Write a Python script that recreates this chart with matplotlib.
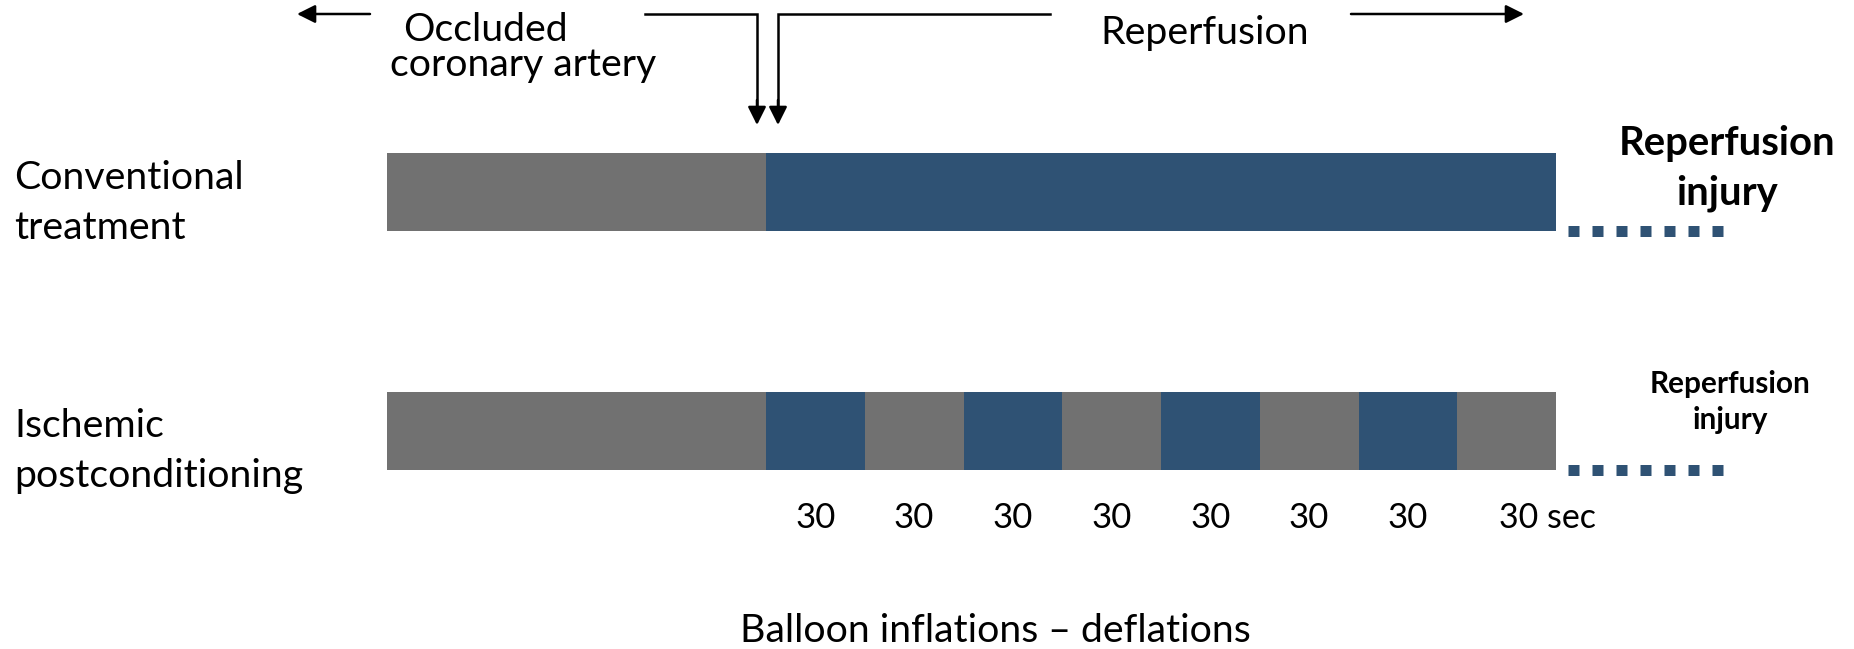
import matplotlib
matplotlib.use("Agg")
import matplotlib.pyplot as plt
from matplotlib.patches import FancyArrowPatch

# ---------------- data ----------------
row_labels = ["Conventional\ntreatment", "Ischemic\npostconditioning"]
occlusion_duration = 115            # schematic length of the index occlusion
conventional_phases = ["reperfusion"]
conventional_durations = [240]
postcond_phases = ["reperfusion", "occlusion"] * 4
postcond_durations = [30, 30, 30, 30, 30, 30, 30, 30]
postcond_labels = ["30", "30", "30", "30", "30", "30", "30", "30 sec"]
injury_labels = ["Reperfusion\ninjury", "Reperfusion\ninjury"]
header_left = "Occluded\ncoronary artery"
header_right = "Reperfusion"
footer = "Balloon inflations \u2013 deflations"

# ---------------- style ----------------
W, H, DPI = 1854, 649, 100
GRAY = "#717171"
BLUE = "#2F5274"
FONT = "Lato"
FS = 28.3
phase_color = {"occlusion": GRAY, "reperfusion": BLUE}

fig = plt.figure(figsize=(W / DPI, H / DPI), dpi=DPI)
fig.patch.set_facecolor("white")

# data axes: x in seconds, y in pixel rows
px_per_s = 98.75 / 30.0
x0_px = 766.0
ax = fig.add_axes([0, 0, 1, 1])
ax.set_xlim(-x0_px / px_per_s, (W - x0_px) / px_per_s)
ax.set_ylim(H, 0)
ax.axis("off")

# overlay axes in pixel coordinates for annotations
ov = fig.add_axes([0, 0, 1, 1], zorder=3)
ov.set_xlim(0, W)
ov.set_ylim(H, 0)
ov.axis("off")
ov.patch.set_alpha(0)

row_y = [192, 431]
bar_h = 78


def draw_row(y, phases, durations):
    ax.barh(y, occlusion_duration, left=-occlusion_duration, height=bar_h,
            color=GRAY, linewidth=0)
    left = 0
    centers = []
    for ph, d in zip(phases, durations):
        ax.barh(y, d, left=left, height=bar_h, color=phase_color[ph], linewidth=0)
        centers.append(left + d / 2)
        left += d
    # dotted continuation
    ax.plot([left + 3.6, left + 50.7], [y + bar_h / 2] * 2, color=BLUE,
            lw=11 * 0.72, linestyle=(0, (1, 13 / 11)), dash_capstyle="butt",
            solid_capstyle="butt")
    return centers, left


draw_row(row_y[0], conventional_phases, conventional_durations)
centers, end = draw_row(row_y[1], postcond_phases, postcond_durations)

# row labels
for lab, y in zip(row_labels, [189, 437]):
    l1, l2 = lab.split("\n")
    ov.text(14, y, l1, fontsize=FS, family=FONT, va="baseline", ha="left")
    ov.text(14, y + 50, l2, fontsize=FS, family=FONT, va="baseline", ha="left")

# injury labels
i1, i2 = injury_labels[0].split("\n")
ax.text(end + 52, 155, i1, fontsize=28.8, family=FONT,
        weight="bold", ha="center", va="baseline")
ax.text(end + 52, 204, i2, fontsize=28.8, family=FONT,
        weight="bold", ha="center", va="baseline")
j1, j2 = injury_labels[1].split("\n")
ax.text(end + 53, 393, j1, fontsize=21.4, family=FONT,
        weight="bold", ha="center", va="baseline")
ax.text(end + 53, 429, j2, fontsize=21.4, family=FONT,
        weight="bold", ha="center", va="baseline")

# duration labels
for c, lab in zip(centers, postcond_labels):
    if lab == "30":
        ax.text(c, 528, lab, fontsize=25, family=FONT, ha="center", va="baseline")
    else:
        ax.annotate(lab, xy=(c, 528), xytext=(-8, 0), textcoords="offset pixels",
                    fontsize=24.5, family=FONT, ha="left", va="baseline")

# header texts
hl1, hl2 = header_left.split("\n")
ov.text(403, 41, hl1, fontsize=FS, family=FONT, va="baseline", ha="left")
ov.text(390, 76, hl2, fontsize=FS, family=FONT, va="baseline", ha="left")
ov.text(1100, 44, header_right, fontsize=FS, family=FONT, va="baseline", ha="left")

# arrows / brackets
LW = 1.8
arrow_kw = dict(arrowstyle="-|>,head_length=1.1,head_width=0.55",
                mutation_scale=10, color="black", lw=LW, shrinkA=0, shrinkB=0)
ov.add_patch(FancyArrowPatch((370, 14), (297, 14), **arrow_kw))
ov.add_patch(FancyArrowPatch((1351, 14), (1524, 14), **arrow_kw))
ov.plot([645, 757, 757], [14, 14, 110], color="black", lw=LW, solid_joinstyle="miter")
ov.add_patch(FancyArrowPatch((757, 100), (757, 125), **arrow_kw))
ov.plot([1050, 778, 778], [14, 14, 110], color="black", lw=LW, solid_joinstyle="miter")
ov.add_patch(FancyArrowPatch((778, 100), (778, 125), **arrow_kw))

# footer
ov.text(995, 642, footer, fontsize=FS, family=FONT, ha="center", va="baseline")

fig.savefig("out.png", dpi=DPI, facecolor="white")
